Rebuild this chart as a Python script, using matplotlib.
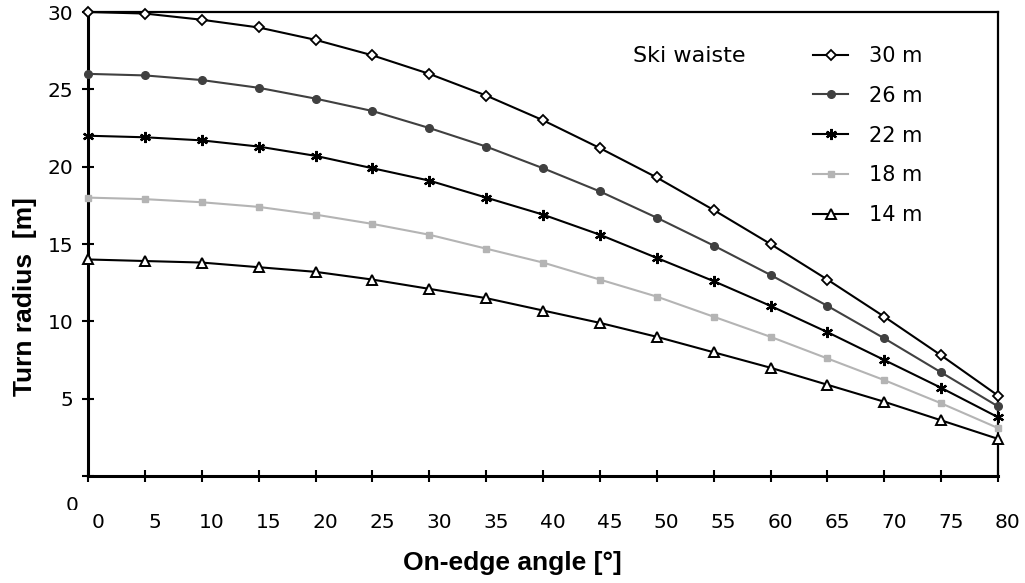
import matplotlib
matplotlib.use("Agg")
import matplotlib.pyplot as plt
from matplotlib.transforms import ScaledTranslation, Bbox, TransformedBbox

# on-edge angle [deg] and turn radius [m] for each ski waist radius
angle = [0, 5, 10, 15, 20, 25, 30, 35, 40, 45, 50, 55, 60, 65, 70, 75, 80]
r30 = [30.0, 29.9, 29.5, 29.0, 28.2, 27.2, 26.0, 24.6, 23.0, 21.2, 19.3, 17.2, 15.0, 12.7, 10.3, 7.8, 5.2]
r26 = [26.0, 25.9, 25.6, 25.1, 24.4, 23.6, 22.5, 21.3, 19.9, 18.4, 16.7, 14.9, 13.0, 11.0, 8.9, 6.7, 4.5]
r22 = [22.0, 21.9, 21.7, 21.3, 20.7, 19.9, 19.1, 18.0, 16.9, 15.6, 14.1, 12.6, 11.0, 9.3, 7.5, 5.7, 3.8]
r18 = [18.0, 17.9, 17.7, 17.4, 16.9, 16.3, 15.6, 14.7, 13.8, 12.7, 11.6, 10.3, 9.0, 7.6, 6.2, 4.7, 3.1]
r14 = [14.0, 13.9, 13.8, 13.5, 13.2, 12.7, 12.1, 11.5, 10.7, 9.9, 9.0, 8.0, 7.0, 5.9, 4.8, 3.6, 2.4]
labels = ["30 m", "26 m", "22 m", "18 m", "14 m"]
xticks = [0, 5, 10, 15, 20, 25, 30, 35, 40, 45, 50, 55, 60, 65, 70, 75, 80]
yticks = [0, 5, 10, 15, 20, 25, 30]

W, H = 1025, 583
plt.rcParams.update({"font.family": "DejaVu Sans"})
fig = plt.figure(figsize=(W/100, H/100), dpi=100)
ax = fig.add_axes([88/W, 1-476/H, (998-88)/W, (476-12)/H])

styles = [
    dict(color="black", marker="D", ms=5, mfc="white", mec="black", mew=1.3),
    dict(color="#404040", marker="o", ms=5.5, mfc="#404040", mec="#404040", mew=1),
    dict(color="black", marker=(6, 2, 0), ms=8, mec="black", mew=1.6),
    dict(color="#b4b4b4", marker="s", ms=5, mfc="#b4b4b4", mec="#b4b4b4", mew=1),
    dict(color="black", marker="^", ms=6.5, mfc="white", mec="black", mew=1.4),
]
for ys, lab, st in zip([r30, r26, r22, r18, r14], labels, styles):
    ax.plot(angle, ys, lw=1.5, label=lab, clip_on=False, zorder=3, **st)

ax.set_xlim(0, 80); ax.set_ylim(0, 30)
ax.set_xticks(xticks); ax.set_yticks(yticks)
ax.set_yticklabels([""] + [str(v) for v in yticks[1:]])
ax.tick_params(direction="inout", length=9, width=1.5, labelsize=14.5)
ax.tick_params(axis="x", pad=22)
ax.tick_params(axis="y", pad=6)
for lab in ax.get_xticklabels():
    lab.set_transform(lab.get_transform() + ScaledTranslation(0.10, 0, fig.dpi_scale_trans))
for s in ["left", "bottom"]: ax.spines[s].set_linewidth(2.2)
for s in ["top", "right"]: ax.spines[s].set_linewidth(1.6)

# stray "0" of the y axis, cut off at the bottom as in the original
z = fig.text(72/W, 1-496/H, "0", ha="center", va="top", fontsize=14.5, clip_on=True)
z.set_clip_box(TransformedBbox(Bbox([[0, 1-510/H], [1, 1]]), fig.transFigure))

ax.set_xlabel("On-edge angle [°]", family="Liberation Sans", fontweight="bold", fontsize=19)
ax.xaxis.set_label_coords(512/W, 1-563/H, transform=fig.transFigure)
ax.xaxis.label.set_va("center")
ax.set_ylabel("Turn radius  [m]", family="Liberation Sans", fontweight="bold", fontsize=19)
ax.yaxis.set_label_coords(25/W, 1-297/H, transform=fig.transFigure)
ax.yaxis.label.set_va("center")

fig.text(633/W, 1-56/H, "Ski waiste", fontsize=16, va="center", ha="left")
ax.legend(loc="upper left", bbox_to_anchor=(813/W, 1-46/H), bbox_transform=fig.transFigure,
          frameon=False, fontsize=15, handlelength=1.7, handletextpad=1.0, labelspacing=0.95,
          borderpad=0, borderaxespad=0)

fig.savefig("out.png", dpi=100)
